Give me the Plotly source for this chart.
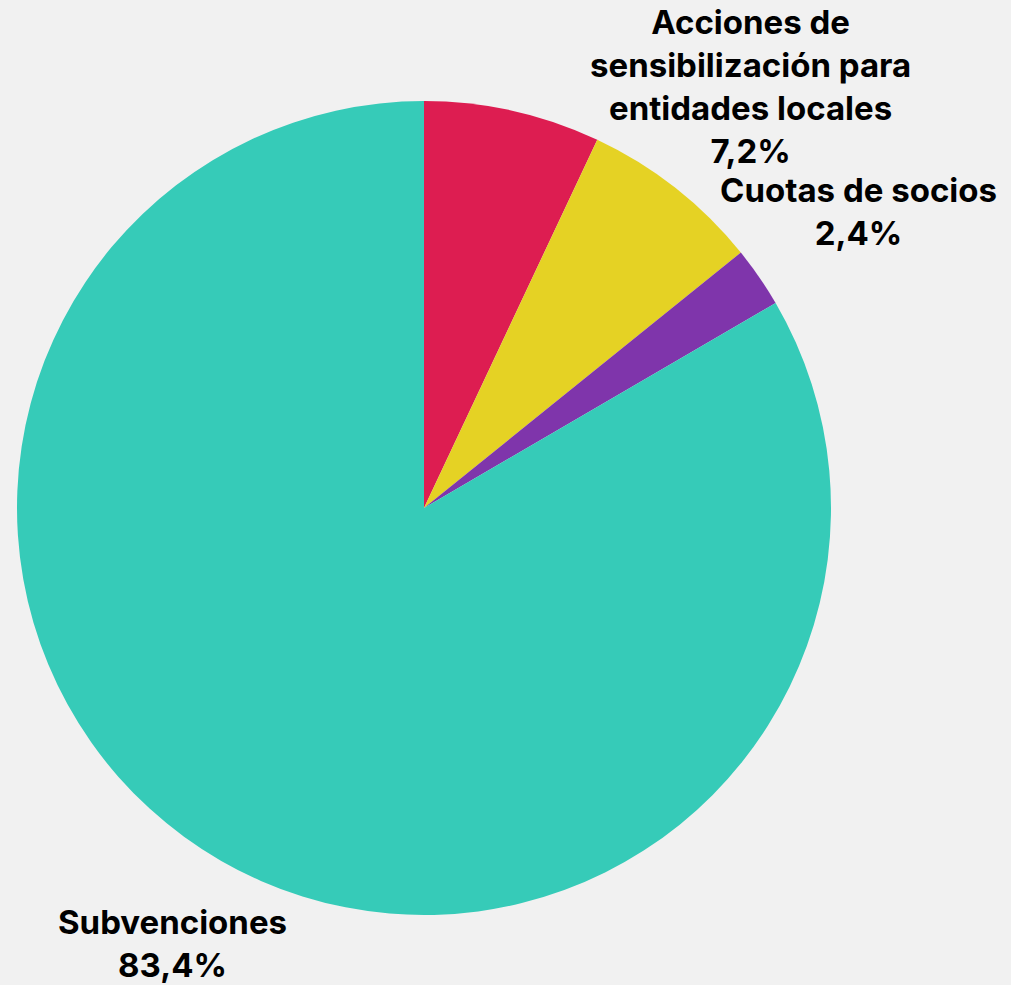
import plotly.graph_objects as go

# Data
labels = ["Otros", "Acciones de sensibilización para entidades locales", "Cuotas de socios", "Subvenciones"]
values = [7.0, 7.2, 2.4, 83.4]
colors = ["#DD1D51", "#E5D224", "#7F35AB", "#36CBB8"]
label_lines = [None, ["Acciones de", "sensibilización para", "entidades locales"], ["Cuotas de socios"], ["Subvenciones"]]

W, H = 1011, 985
cx, cy, r = 424, 508, 407

fig = go.Figure(go.Pie(
    labels=labels, values=values, sort=False, direction="clockwise", rotation=0,
    marker=dict(colors=colors, line=dict(width=0)),
    textinfo="none", hoverinfo="skip", showlegend=False,
    domain=dict(x=[(cx - r) / W, (cx + r) / W], y=[(H - cy - r) / H, (H - cy + r) / H]),
))

# label anchor positions (pixels from top-left)
label_pos = [None, (750, 87), (858, 211), (172, 943)]

def fmt(v):
    return f"{v:.1f}".replace(".", ",") + "%"

for lines, v, pos in zip(label_lines, values, label_pos):
    if lines is None:
        continue
    txt = "<br>".join(lines + [fmt(v)])
    fig.add_annotation(
        x=pos[0] / W, y=1 - pos[1] / H, xref="paper", yref="paper",
        text=txt, showarrow=False, xanchor="center", yanchor="middle", align="center",
        borderpad=0,
        font=dict(family="Inter", size=33, color="#000000", weight="bold"),
    )

fig.update_layout(
    width=W, height=H, margin=dict(l=0, r=0, t=0, b=0),
    paper_bgcolor="#F1F1F1", plot_bgcolor="#F1F1F1",
)

fig.write_html("out.html", config={"displayModeBar": False},
               post_script="document.body.style.margin='0';document.body.style.overflow='hidden';")
